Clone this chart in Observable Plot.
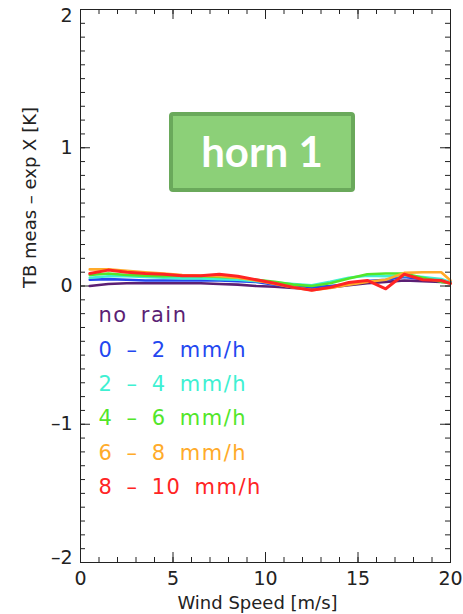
<!DOCTYPE html>
<html><head><meta charset="utf-8">
<script src="https://cdn.jsdelivr.net/npm/d3@7"></script>
<script src="https://cdn.jsdelivr.net/npm/@observablehq/plot@0.6"></script>
<style>
body{margin:0;background:#fff;}
#wrap{position:relative;width:463px;height:614px;overflow:hidden;}
#wrap svg{position:absolute;left:0;top:0;}
#badge{position:absolute;z-index:2;left:169px;top:112px;width:186px;height:80px;box-sizing:border-box;background:#8cd078;border:4px solid #6aa95b;border-radius:4px;color:#fff;font:bold 42px Lato,"Open Sans",sans-serif;display:flex;align-items:center;justify-content:center;padding-bottom:3px;}
</style></head><body>
<div id="wrap"><div id="badge">horn 1</div></div>
<script>
// Wind speed bins [m/s]
const windSpeed = [0.5,1.5,2.5,3.5,4.5,5.5,6.5,7.5,8.5,9.5,10.5,11.5,12.5,13.5,14.5,15.5,16.5,17.5,18.5,19.5,20];
// TB meas - exp X [K] per rain class
const noRain   = [0.000,0.015,0.020,0.020,0.020,0.020,0.020,0.015,0.010,0.000,-0.005,-0.015,-0.020,-0.010,0.005,0.020,0.030,0.040,0.035,0.030,0.025];
const rain0to2 = [0.045,0.050,0.045,0.040,0.040,0.040,0.040,0.040,0.035,0.030,0.010,-0.005,-0.010,0.000,0.015,0.035,0.045,0.065,0.050,0.040,0.030];
const rain2to4 = [0.060,0.070,0.070,0.065,0.060,0.055,0.055,0.050,0.045,0.035,0.025,0.015,0.005,0.030,0.060,0.075,0.070,0.075,0.065,0.050,0.025];
const rain4to6 = [0.080,0.090,0.080,0.075,0.070,0.075,0.070,0.065,0.060,0.045,0.030,0.010,0.000,0.020,0.055,0.085,0.090,0.090,0.060,0.030,0.020];
const rain6to8 = [0.120,0.120,0.110,0.100,0.090,0.080,0.075,0.070,0.060,0.040,0.015,-0.010,-0.030,-0.015,0.010,0.030,0.045,0.095,0.100,0.100,0.040];
const rain8to10= [0.090,0.115,0.100,0.090,0.085,0.075,0.075,0.085,0.070,0.045,0.020,-0.010,-0.030,-0.010,0.025,0.040,-0.020,0.085,0.045,0.040,0.018];

const seriesNames  = ["no rain","0 – 2 mm/h","2 – 4 mm/h","4 – 6 mm/h","6 – 8 mm/h","8 – 10 mm/h"];
const seriesColors = ["#5b1f74","#2347f0","#3ff0d2","#52e62a","#ffab2a","#ff2424"];
const seriesValues = [noRain, rain0to2, rain2to4, rain4to6, rain6to8, rain8to10];

const xMajorTicks = [0,5,10,15,20];
const yMajorTicks = [-2,-1,0,1,2];
const xMinorTicks = d3.range(0,21,1);
const yMinorTicks = d3.range(-20,21,1).map(d => d/10);

const W = 463, H = 614, mL = 80, mR = 13, mT = 9, mB = 52;
const fw = W - mL - mR, fh = H - mT - mB;
const axisColor = "#222";
const fmtY = d => d < 0 ? "–" + Math.abs(d) : String(d);

const rows = [];
seriesNames.forEach((name, i) => windSpeed.forEach((w, j) => rows.push({series: name, ws: w, v: seriesValues[i][j]})));

const marks = [];
// inward ticks (bottom/top/left/right)
marks.push(Plot.tickX(xMinorTicks, {x: d => d, insetTop: fh - 5, stroke: axisColor}));
marks.push(Plot.tickX(xMinorTicks, {x: d => d, insetBottom: fh - 5, stroke: axisColor}));
marks.push(Plot.tickX(xMajorTicks, {x: d => d, insetTop: fh - 10, stroke: axisColor}));
marks.push(Plot.tickX(xMajorTicks, {x: d => d, insetBottom: fh - 10, stroke: axisColor}));
marks.push(Plot.tickY(yMinorTicks, {y: d => d, insetRight: fw - 5, stroke: axisColor}));
marks.push(Plot.tickY(yMinorTicks, {y: d => d, insetLeft: fw - 5, stroke: axisColor}));
marks.push(Plot.tickY(yMajorTicks, {y: d => d, insetRight: fw - 10, stroke: axisColor}));
marks.push(Plot.tickY(yMajorTicks, {y: d => d, insetLeft: fw - 10, stroke: axisColor}));

seriesNames.forEach((name, i) => {
  marks.push(Plot.line(rows.filter(r => r.series === name), {
    x: "ws", y: "v", stroke: seriesColors[i], strokeWidth: i === 5 ? 3 : 2.6, strokeLinejoin: "round"
  }));
});

// y tick labels (end labels nudged inside like the reference)
yMajorTicks.forEach(t => {
  marks.push(Plot.text([t], {
    y: d => d, text: fmtY, frameAnchor: "left", dx: -8, dy: t === 2 ? 6 : t === -2 ? -5 : 0,
    textAnchor: "end", lineAnchor: "middle", fontSize: 19, fill: axisColor
  }));
});

// legend (inside frame)
seriesNames.forEach((name, i) => {
  marks.push(Plot.text([name], {
    text: d => d, frameAnchor: "top-left", dx: 18, dy: 306 + i * 34.4, lineAnchor: "middle",
    fill: seriesColors[i], fontSize: 21, textAnchor: "start", fontFamily: "DejaVu Sans"
  }));
});

marks.push(Plot.frame({stroke: axisColor}));

// axis titles
marks.push(Plot.text(["Wind Speed [m/s]"], {text: d => d, frameAnchor: "bottom", lineAnchor: "middle", dx: -8, dy: 41, fontSize: 18, fill: axisColor}));
marks.push(Plot.text(["TB meas – exp X [K]"], {text: d => d, frameAnchor: "left", lineAnchor: "middle", dx: -50, dy: 2, rotate: -90, fontSize: 18, fill: axisColor}));

const chart = Plot.plot({
  width: W, height: H,
  marginLeft: mL, marginRight: mR, marginTop: mT, marginBottom: mB,
  style: {fontFamily: "DejaVu Sans", fontSize: "19px", color: axisColor, background: "#fff"},
  x: {domain: [0,20], ticks: xMajorTicks, tickSize: 0, tickPadding: 9, label: null, tickFormat: d => String(d)},
  y: {domain: [-2,2], axis: null},
  marks
});
// widen legend lettering like the reference's vector font
d3.select(chart).selectAll("text")
  .filter(function() { return seriesNames.includes(this.textContent); })
  .style("letter-spacing", "1.5px").style("word-spacing", "5px");
document.getElementById("wrap").prepend(chart);
</script>
</body></html>
